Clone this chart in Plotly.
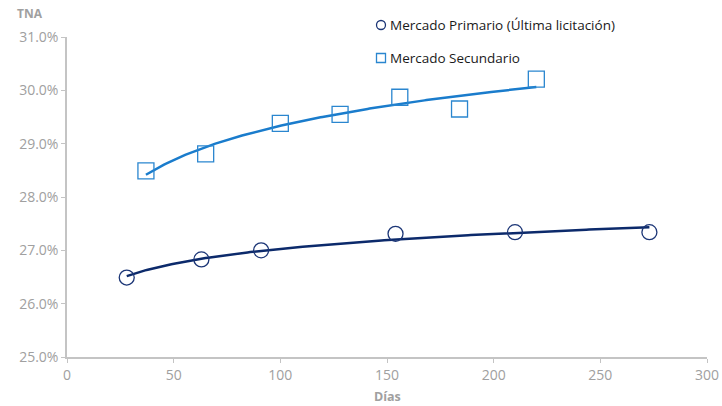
import numpy as np
import plotly.graph_objects as go

# Data
prim_dias = [28, 63, 91, 154, 210, 273]
prim_tna = [26.49, 26.83, 27.00, 27.31, 27.34, 27.34]
sec_dias = [37, 65, 100, 128, 156, 184, 220]
sec_tna = [28.49, 28.81, 29.38, 29.55, 29.87, 29.65, 30.21]

prim_name = "Mercado Primario (Última licitación)"
sec_name = "Mercado Secundario"
x_ticks = [0, 50, 100, 150, 200, 250, 300]
y_ticks = [25, 26, 27, 28, 29, 30, 31]

c_prim = "#1b3576"
c_prim_line = "#0c2a6b"
c_sec = "#2a86cf"
c_sec_line = "#1a7ccc"
gray = "#a0a0a0"
axis_gray = "#c4c4c4"
font = "Open Sans"

W, H = 722, 406
L, R, T, B = 67, 15, 37, 49
PW, PH = W - L - R, H - T - B


def px2paper(px, py):
    return (px - L) / PW, (H - B - py) / PH


def log_trend(xs, ys):
    b, a = np.polyfit(np.log(xs), ys, 1)
    xx = np.linspace(min(xs), max(xs), 200)
    return xx, a + b * np.log(xx)


fig = go.Figure()

px_, py_ = log_trend(prim_dias, prim_tna)
sx_, sy_ = log_trend(sec_dias, sec_tna)

fig.add_trace(go.Scatter(x=px_, y=py_, mode="lines", line=dict(color=c_prim_line, width=2.5),
                         showlegend=False, hoverinfo="skip"))
fig.add_trace(go.Scatter(x=sx_, y=sy_, mode="lines", line=dict(color=c_sec_line, width=2.5),
                         showlegend=False, hoverinfo="skip"))
fig.add_trace(go.Scatter(x=prim_dias, y=prim_tna, mode="markers", name=prim_name,
                         marker=dict(symbol="circle-open", size=15, color=c_prim, line=dict(width=1.3)),
                         showlegend=False))
fig.add_trace(go.Scatter(x=sec_dias, y=sec_tna, mode="markers", name=sec_name,
                         marker=dict(symbol="square-open", size=16, color=c_sec, line=dict(width=1.3)),
                         showlegend=False))

# Custom legend (symbols as shapes, labels as annotations), positioned in pixels
shapes = []
annotations = []
half = 4.5
for (cx, cy), kind, col, label in [((381, 25), "circle", c_prim, prim_name),
                                   ((381, 58), "rect", c_sec, sec_name)]:
    x0, y0 = px2paper(cx - half, cy + half)
    x1, y1 = px2paper(cx + half, cy - half)
    shapes.append(dict(type=kind, xref="paper", yref="paper", x0=x0, x1=x1, y0=y0, y1=y1,
                       line=dict(color=col, width=1.3), fillcolor="rgba(0,0,0,0)"))
    tx, ty = px2paper(388, cy)
    annotations.append(dict(text=label, x=tx, y=ty, xref="paper", yref="paper", showarrow=False,
                            xanchor="left", yanchor="middle",
                            font=dict(color="#1a1a1a", size=13.5, family=font)))

tx, ty = px2paper(15, 13)
annotations.append(dict(text="<b>TNA</b>", x=tx, y=ty, xref="paper", yref="paper", showarrow=False,
                        font=dict(color=gray, size=12, family=font), xanchor="left", yanchor="middle"))
tx, ty = px2paper(387, 396)
annotations.append(dict(text="<b>Días</b>", x=tx, y=ty, xref="paper", yref="paper", showarrow=False,
                        font=dict(color=gray, size=12.5, family=font), xanchor="center", yanchor="middle"))

fig.update_layout(
    width=W, height=H,
    margin=dict(l=L, r=R, t=T, b=B),
    plot_bgcolor="white", paper_bgcolor="white",
    font=dict(family=font, size=14, color=gray),
    showlegend=False,
    xaxis=dict(range=[0, 300], tickvals=x_ticks, showgrid=False, zeroline=False, automargin=False,
               showline=True, linecolor=axis_gray, linewidth=1.5, ticks="outside",
               ticklen=4, tickcolor=axis_gray, tickfont=dict(color=gray, size=14)),
    yaxis=dict(range=[25, 31], tickvals=y_ticks, ticktext=[f"{v:.1f}%" for v in y_ticks],
               showgrid=False, zeroline=False, showline=True, linecolor=axis_gray, linewidth=1.5,
               automargin=False, ticks="outside", ticklen=4, tickcolor=axis_gray,
               tickfont=dict(color=gray, size=14)),
    shapes=shapes,
    annotations=annotations,
)

fig.write_html("out.html", config={"displayModeBar": False},
               post_script="document.body.style.margin='0';document.body.style.overflow='hidden';")
